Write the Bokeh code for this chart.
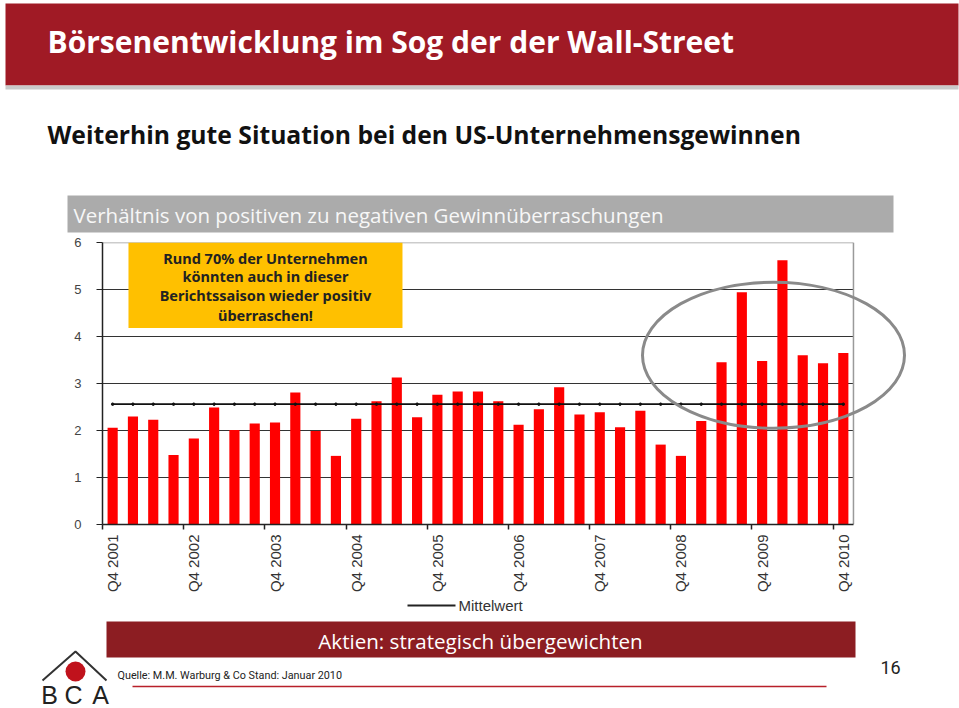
import math
from bokeh.plotting import figure
from bokeh.layouts import column
from bokeh.models import Range1d, LinearAxis, FixedTicker
from bokeh.core.properties import value
from bokeh.embed import file_html
from bokeh.resources import INLINE

# ---------------- data ----------------
quarters = ["Q4 2001",
            "Q1 2002", "Q2 2002", "Q3 2002", "Q4 2002",
            "Q1 2003", "Q2 2003", "Q3 2003", "Q4 2003",
            "Q1 2004", "Q2 2004", "Q3 2004", "Q4 2004",
            "Q1 2005", "Q2 2005", "Q3 2005", "Q4 2005",
            "Q1 2006", "Q2 2006", "Q3 2006", "Q4 2006",
            "Q1 2007", "Q2 2007", "Q3 2007", "Q4 2007",
            "Q1 2008", "Q2 2008", "Q3 2008", "Q4 2008",
            "Q1 2009", "Q2 2009", "Q3 2009", "Q4 2009",
            "Q1 2010", "Q2 2010", "Q3 2010", "Q4 2010"]
ratio = [2.06, 2.30, 2.23, 1.48, 1.83, 2.49, 2.01, 2.15, 2.17, 2.81,
         1.99, 1.46, 2.25, 2.62, 3.13, 2.28, 2.76, 2.83, 2.83, 2.62,
         2.12, 2.45, 2.92, 2.34, 2.39, 2.07, 2.42, 1.70, 1.46, 2.20,
         3.45, 4.94, 3.48, 5.62, 3.60, 3.43, 3.65]
mean_value = 2.56
y_ticks = [0, 1, 2, 3, 4, 5, 6]
x_tick_labels = ["Q4 2001", "Q4 2002", "Q4 2003", "Q4 2004", "Q4 2005",
                 "Q4 2006", "Q4 2007", "Q4 2008", "Q4 2009", "Q4 2010"]

title_text = "Börsenentwicklung im Sog der der Wall-Street"
subtitle_text = "Weiterhin gute Situation bei den US-Unternehmensgewinnen"
chart_title = "Verhältnis von positiven zu negativen Gewinnüberraschungen"
note_lines = ["Rund 70% der Unternehmen", "könnten auch in dieser",
              "Berichtssaison wieder positiv", "überraschen!"]
legend_text = "Mittelwert"
banner_text = "Aktien: strategisch übergewichten"
source_text = "Quelle: M.M. Warburg & Co Stand: Januar 2010"
page_no = "16"

SANS = value("Roboto")
OPEN = value("Open Sans")
ARIAL = "Liberation Sans"
W = 959

def deco_fig(h, y_top, y_bottom):
    f = figure(width=W, height=h, x_range=Range1d(0, W), y_range=Range1d(y_bottom, y_top),
               output_backend="svg", toolbar_location=None,
               x_axis_location=None, y_axis_location=None, min_border=0,
               frame_align=False)
    f.xgrid.visible = False
    f.ygrid.visible = False
    f.outline_line_color = None
    f.background_fill_color = "white"
    f.border_fill_color = "white"
    return f

# ---------------- header figure ----------------
pA = deco_fig(233, 0, 233)
pA.quad(left=[5], right=[958], top=[3], bottom=[85], color="#A01A25", line_color=None)
pA.quad(left=[5], right=[958], top=[85], bottom=[89], color="#CACACA", line_color=None)
pA.text(x=[47], y=[41], text=[title_text], text_font=OPEN, text_font_style="bold",
        text_font_size="30px", text_color="white", text_baseline="middle")
pA.text(x=[47], y=[134], text=[subtitle_text], text_font=OPEN, text_font_style="bold",
        text_font_size="24.7px", text_color="#111111", text_baseline="middle")
pA.quad(left=[67], right=[893], top=[195], bottom=[232], color="#ABABAB", line_color=None)
pA.text(x=[73], y=[214], text=[chart_title], text_font=OPEN,
        text_font_size="20.5px", text_color="#F7F7F7", text_baseline="middle")

# ---------------- chart figure ----------------
idx = list(range(len(quarters)))
n = len(quarters)
label_pos = [i for i, q in enumerate(quarters) if q in x_tick_labels]
boundaries = [i - 0.5 for i in label_pos]

pB = figure(width=W, height=362, x_range=Range1d(-0.5, 39.31), y_range=Range1d(0, 6),
            output_backend="svg", toolbar_location=None,
            x_axis_location=None, y_axis_location=None, frame_align=False,
            min_border_left=102, min_border_right=49, min_border_top=9, min_border_bottom=70)
pB.xgrid.visible = False
pB.ygrid.visible = False
pB.outline_line_color = None
pB.border_fill_color = "white"

yax = LinearAxis(ticker=FixedTicker(ticks=y_ticks), axis_line_color="#222222", axis_line_width=1.5,
                 major_tick_out=6, major_tick_in=0, major_tick_line_color="#222222",
                 minor_tick_line_color=None, major_label_standoff=15,
                 major_label_text_font=ARIAL, major_label_text_font_size="13px",
                 major_label_text_color="#444444")
pB.add_layout(yax, "left")

xax = LinearAxis(ticker=FixedTicker(ticks=label_pos, minor_ticks=boundaries),
                 bounds=(-0.5, n - 0.5),
                 major_label_overrides={p: quarters[p] for p in label_pos},
                 major_label_orientation=math.pi / 2,
                 axis_line_color="#222222", axis_line_width=1.5,
                 major_tick_line_color=None, major_tick_out=5, major_tick_in=0,
                 minor_tick_line_color="#222222", minor_tick_out=5, minor_tick_in=0,
                 minor_tick_line_width=1.5,
                 major_label_standoff=5, major_label_text_font=ARIAL,
                 major_label_text_font_size="15px", major_label_text_color="#333333")
pB.add_layout(xax, "below")

# grid lines and frame
grid_y = y_ticks[1:-1]
pB.segment(x0=[-0.5] * len(grid_y), x1=[n - 0.5] * len(grid_y), y0=grid_y, y1=grid_y,
           line_color="#333333", line_width=1)
pB.segment(x0=[-0.5], x1=[n - 0.5], y0=[y_ticks[-1]], y1=[y_ticks[-1]],
           line_color="#9A9A9A", line_width=1.5)
pB.segment(x0=[n - 0.5], x1=[n - 0.5], y0=[y_ticks[0]], y1=[y_ticks[-1]],
           line_color="#9A9A9A", line_width=1.5)

pB.vbar(x=idx, top=ratio, width=0.5, color="#FF0000", line_color=None)

pB.line(x=idx, y=[mean_value] * n, line_color="#111111", line_width=1.8)
pB.scatter(x=idx, y=[mean_value] * n, size=2.5, color="#111111")

# note box
pB.quad(left=[0.78], right=[14.28], top=[6], bottom=[4.18], color="#FFC000", line_color=None)
note_y = [5.66, 5.28, 4.88, 4.45]
pB.text(x=[7.53] * 4, y=note_y, text=note_lines, text_font=value("Noto Sans"),
        text_font_style="bold", text_font_size="14.5px", text_color="#222222",
        text_align="center", text_baseline="middle")

# highlight ellipse
pB.ellipse(x=[32.56], y=[3.60], width=262, height=146, width_units="screen",
           height_units="screen", fill_color=None, line_color="#8A8A8A", line_width=3)

# ---------------- footer figure ----------------
pC = deco_fig(113, 595, 708)
pC.line(x=[407, 455], y=[605, 605], line_color="#222222", line_width=2)
pC.text(x=[458], y=[605], text=[legend_text], text_font=value(ARIAL), text_font_size="15px",
        text_color="#333333", text_baseline="middle")
pC.quad(left=[106], right=[855], top=[621], bottom=[657], color="#8C1D22", line_color=None)
pC.text(x=[480], y=[640], text=[banner_text], text_font=OPEN, text_font_size="20.6px",
        text_color="white", text_align="center", text_baseline="middle")
# logo
pC.line(x=[42, 75, 106], y=[680, 651, 680], line_color="#333333", line_width=2)
pC.scatter(x=[75], y=[671], size=20, marker="circle", color="#C0121C", line_color=None)
pC.text(x=[49, 73, 100], y=[694, 694, 694], text=["B", "C", "A"], text_font=value(ARIAL),
        text_font_size="25px", text_color="#222222",
        text_align="center", text_baseline="middle")
pC.text(x=[117], y=[675], text=[source_text], text_font=SANS, text_font_size="10.8px",
        text_color="#222222", text_baseline="middle")
pC.line(x=[132, 826], y=[686, 686], line_color="#B8202A", line_width=1.5)
pC.text(x=[880], y=[667], text=[page_no], text_font=SANS, text_font_size="18px",
        text_color="#222222", text_baseline="middle")

layout = column(pA, pB, pC, spacing=0)
open("out.html", "w").write(file_html(layout, INLINE))
